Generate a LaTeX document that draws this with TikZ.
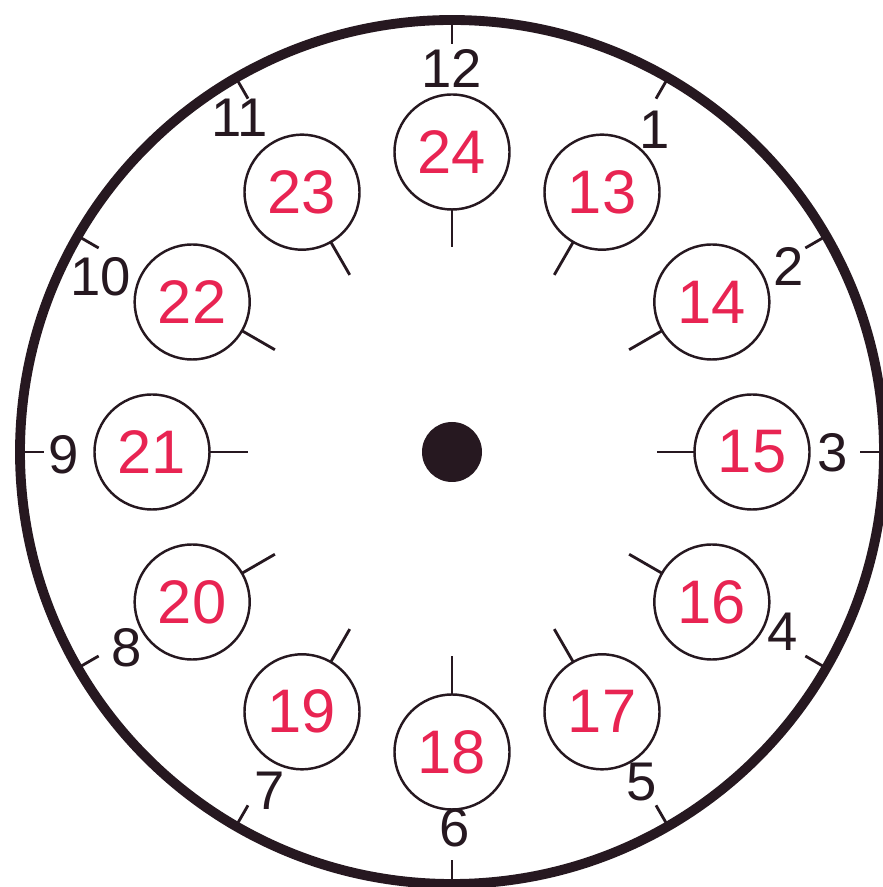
\documentclass[tikz,border=0pt]{standalone}
\usepackage{fontspec}
\setmainfont{Liberation Sans}
\definecolor{ink}{RGB}{38,24,32}
\definecolor{numred}{RGB}{232,36,82}
\usetikzlibrary{positioning}

\begin{document}
\begin{tikzpicture}[
    every node/.style={align=center},
    face/.style={circle, draw=ink, line width=2.8pt, minimum size=8.64cm, inner sep=0pt, outer sep=0pt},
    hub/.style={circle, fill=ink, minimum size=0.6cm, inner sep=0pt},
    hour/.style={text=ink, inner sep=0pt, font=\fontsize{15.5}{17}\selectfont},
    dial/.style={circle, draw=ink, line width=0.7pt, minimum size=1.15cm, inner sep=0pt, outer sep=0pt, text=numred, font=\fontsize{17.5}{19}\selectfont},
    hand/.style={draw=ink, line width=0.8pt}
]
\useasboundingbox (-4.52,-4.35) rectangle (4.30,4.52);
\node[face] (face) at (0,0) {};
\node[hub] (hub) at (0,0) {};
% hours on the rim
\node[hour] (h12) at (0.00,3.84) {12};
\node[hour] (h1) at (2.03,3.22) {1};
\node[hour] (h2) at (3.37,1.86) {2};
\node[hour] (h3) at (3.81,-0.01) {3};
\node[hour] (h4) at (3.31,-1.80) {4};
\node[hour] (h5) at (1.90,-3.30) {5};
\node[hour] (h6) at (0.03,-3.76) {6};
\node[hour] (h7) at (-1.82,-3.39) {7};
\node[hour] (h8) at (-3.25,-1.96) {8};
\node[hour] (h9) at (-3.88,-0.03) {9};
\node[hour] (h10) at (-3.51,1.75) {10};
\node[hour] (h11) at (-2.12,3.34) {11};
% afternoon hours in small circles
\node[dial] (d24) at (90:3.0) {24};
\node[dial] (d13) at (60:3.0) {13};
\node[dial] (d14) at (30:3.0) {14};
\node[dial] (d15) at (0:3.0) {15};
\node[dial] (d16) at (-30:3.0) {16};
\node[dial] (d17) at (-60:3.0) {17};
\node[dial] (d18) at (-90:3.0) {18};
\node[dial] (d19) at (-120:3.0) {19};
\node[dial] (d20) at (-150:3.0) {20};
\node[dial] (d21) at (180:3.0) {21};
\node[dial] (d22) at (150:3.0) {22};
\node[dial] (d23) at (120:3.0) {23};
% rim ticks
\draw[hand] (face.90) -- ++(270:0.24);
\draw[hand] (face.60) -- ++(240:0.24);
\draw[hand] (face.30) -- ++(210:0.24);
\draw[hand] (face.0) -- ++(180:0.24);
\draw[hand] (face.-30) -- ++(150:0.24);
\draw[hand] (face.-60) -- ++(120:0.24);
\draw[hand] (face.-90) -- ++(90:0.24);
\draw[hand] (face.-120) -- ++(60:0.24);
\draw[hand] (face.-150) -- ++(30:0.24);
\draw[hand] (face.180) -- ++(0:0.24);
\draw[hand] (face.150) -- ++(-30:0.24);
\draw[hand] (face.120) -- ++(-60:0.24);
% ticks under the small circles
\draw[hand] (d24.270) -- ++(270:0.38);
\draw[hand] (d13.240) -- ++(240:0.38);
\draw[hand] (d14.210) -- ++(210:0.38);
\draw[hand] (d15.180) -- ++(180:0.38);
\draw[hand] (d16.150) -- ++(150:0.38);
\draw[hand] (d17.120) -- ++(120:0.38);
\draw[hand] (d18.90) -- ++(90:0.38);
\draw[hand] (d19.60) -- ++(60:0.38);
\draw[hand] (d20.30) -- ++(30:0.38);
\draw[hand] (d21.0) -- ++(0:0.38);
\draw[hand] (d22.-30) -- ++(-30:0.38);
\draw[hand] (d23.-60) -- ++(-60:0.38);
\end{tikzpicture}
\end{document}
